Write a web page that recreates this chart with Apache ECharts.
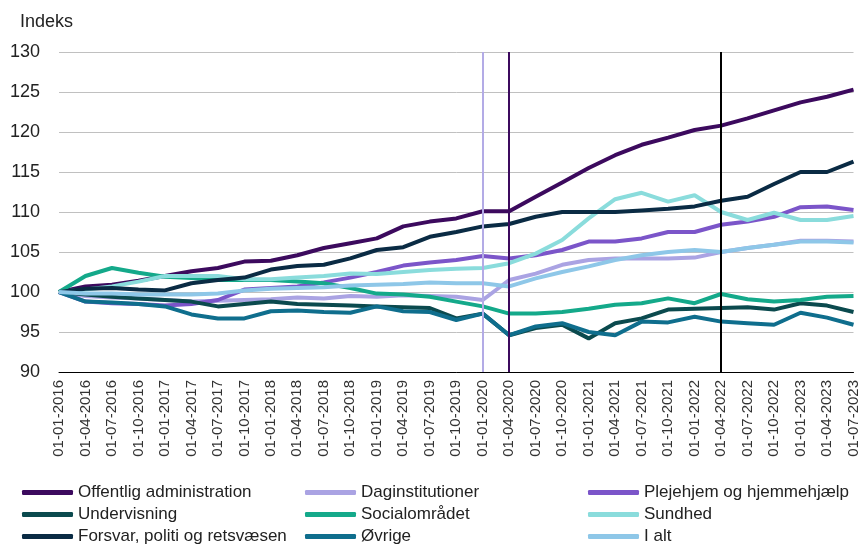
<!DOCTYPE html>
<html>
<head>
<meta charset="utf-8">
<script src="https://cdn.jsdelivr.net/npm/echarts@6/dist/echarts.min.js"></script>
<style>
  html, body { margin: 0; padding: 0; background: #fff; }
  #chart { width: 861px; height: 545px; }
</style>
</head>
<body>
<div id="chart"></div>
<script>
// kvartaler 2016-2023
const dates = [
  '01-01-2016', '01-04-2016', '01-07-2016', '01-10-2016',
  '01-01-2017', '01-04-2017', '01-07-2017', '01-10-2017',
  '01-01-2018', '01-04-2018', '01-07-2018', '01-10-2018',
  '01-01-2019', '01-04-2019', '01-07-2019', '01-10-2019',
  '01-01-2020', '01-04-2020', '01-07-2020', '01-10-2020',
  '01-01-2021', '01-04-2021', '01-07-2021', '01-10-2021',
  '01-01-2022', '01-04-2022', '01-07-2022', '01-10-2022',
  '01-01-2023', '01-04-2023', '01-07-2023'
]
const yTicks = [90, 95, 100, 105, 110, 115, 120, 125, 130]

const offentligAdm = [100, 100.7, 100.9, 101.4, 102, 102.6, 103, 103.8, 103.9, 104.6, 105.5, 106.1, 106.7, 108.2, 108.8, 109.2, 110.1, 110.1, 111.9, 113.7, 115.5, 117.1, 118.4, 119.3, 120.25, 120.8, 121.7, 122.7, 123.7, 124.4, 125.3]
const daginst = [100, 99.5, 99.3, 99.2, 99.0, 98.8, 98.9, 99.0, 99.1, 99.3, 99.2, 99.5, 99.4, 99.6, 99.5, 99.4, 99.0, 101.5, 102.3, 103.4, 104, 104.2, 104.2, 104.2, 104.3, 105, 105.5, 105.9, 106.4, 106.4, 106.3]
const plejehjem = [100, 98.8, 98.6, 98.5, 98.3, 98.5, 99.0, 100.3, 100.5, 100.7, 101.2, 101.8, 102.5, 103.3, 103.7, 104.0, 104.5, 104.2, 104.6, 105.25, 106.3, 106.3, 106.7, 107.5, 107.5, 108.4, 108.8, 109.4, 110.6, 110.7, 110.25]
const undervisning = [100, 99.7, 99.4, 99.2, 99.0, 98.8, 98.2, 98.5, 98.8, 98.5, 98.4, 98.3, 98.2, 98.1, 98.0, 96.7, 97.3, 94.6, 95.5, 95.9, 94.2, 96.1, 96.7, 97.8, 97.9, 98.0, 98.1, 97.8, 98.6, 98.3, 97.5]
const socialomraadet = [100, 102, 103, 102.4, 101.9, 101.75, 101.5, 101.5, 101.5, 101.3, 101.1, 100.5, 99.8, 99.7, 99.4, 98.8, 98.2, 97.3, 97.3, 97.5, 97.9, 98.4, 98.6, 99.2, 98.6, 99.75, 99.1, 98.8, 99, 99.4, 99.5]
const sundhed = [100, 100.3, 100.7, 101.3, 102, 102, 102, 101.6, 101.6, 101.8, 102, 102.3, 102.25, 102.5, 102.75, 102.9, 103, 103.6, 104.8, 106.5, 109.2, 111.6, 112.4, 111.3, 112.1, 110, 109, 109.9, 109, 109, 109.5]
const forsvar = [100, 100.4, 100.5, 100.3, 100.2, 101.1, 101.5, 101.8, 102.8, 103.25, 103.4, 104.2, 105.25, 105.6, 106.9, 107.5, 108.2, 108.5, 109.4, 110, 110, 110, 110.2, 110.4, 110.7, 111.4, 111.9, 113.5, 115, 115, 116.3]
const oevrige = [100, 98.8, 98.7, 98.5, 98.2, 97.2, 96.7, 96.7, 97.6, 97.7, 97.5, 97.4, 98.2, 97.6, 97.5, 96.5, 97.3, 94.6, 95.7, 96.1, 95, 94.6, 96.3, 96.2, 96.9, 96.3, 96.1, 95.9, 97.4, 96.8, 95.9]
const iAlt = [100, 99.8, 99.8, 99.7, 99.7, 99.7, 99.8, 100.2, 100.4, 100.5, 100.6, 100.8, 100.9, 101.0, 101.2, 101.1, 101.1, 100.7, 101.7, 102.5, 103.2, 104, 104.6, 105, 105.25, 105, 105.5, 105.9, 106.3, 106.3, 106.2]

// lodrette markeringer
const markers = [
  { date: '01-01-2020', color: '#b3abe6' },
  { date: '01-04-2020', color: '#3c0a5e' },
  { date: '01-04-2022', color: '#000000' }
]

const seriesDefs = [
  { name: 'Offentlig administration', data: offentligAdm, color: '#3c0a5e' },
  { name: 'Daginstitutioner', data: daginst, color: '#aaa3e3' },
  { name: 'Plejehjem og hjemmehjælp', data: plejehjem, color: '#7b55c9' },
  { name: 'Undervisning', data: undervisning, color: '#0b4a4e' },
  { name: 'Socialområdet', data: socialomraadet, color: '#14a98a' },
  { name: 'Sundhed', data: sundhed, color: '#8adcdc' },
  { name: 'Forsvar, politi og retsvæsen', data: forsvar, color: '#0a2b44' },
  { name: 'Øvrige', data: oevrige, color: '#0f6e8d' },
  { name: 'I alt', data: iAlt, color: '#8ec7e8' }
]

const chart = echarts.init(document.getElementById('chart'))

const series = seriesDefs.map(s => ({
  name: s.name,
  type: 'line',
  data: s.data,
  symbol: 'none',
  color: s.color,
  lineStyle: { width: 4, color: s.color },
  animation: false
}))

// markeringslinjer på første serie
series[0].markLine = {
  silent: true,
  symbol: 'none',
  label: { show: false },
  animation: false,
  data: markers.map(m => ({
    xAxis: m.date,
    lineStyle: { color: m.color, width: 2, type: 'solid' }
  }))
}

const legendText = { fontSize: 17, color: '#222', fontFamily: 'Liberation Sans, Arial', lineHeight: 17 }
const legendCommon = {
  orient: 'vertical',
  top: 484,
  height: 80,
  padding: 0,
  itemWidth: 51,
  itemHeight: 5,
  itemGap: 5,
  icon: 'roundRect',
  textStyle: legendText,
  selectedMode: false
}

chart.setOption({
  animation: false,
  title: {
    text: 'Indeks',
    left: 15,
    top: 8,
    textStyle: { fontSize: 18, fontWeight: 'normal', color: '#222', fontFamily: 'Liberation Sans, Arial' }
  },
  grid: {
    left: 59,
    right: 6,
    top: 52,
    bottom: 173
  },
  legend: [
    Object.assign({ left: 22, data: ['Offentlig administration', 'Undervisning', 'Forsvar, politi og retsvæsen'] }, legendCommon),
    Object.assign({ left: 305, data: ['Daginstitutioner', 'Socialområdet', 'Øvrige'] }, legendCommon),
    Object.assign({ left: 588, data: ['Plejehjem og hjemmehjælp', 'Sundhed', 'I alt'] }, legendCommon)
  ],
  xAxis: {
    type: 'category',
    data: dates,
    boundaryGap: false,
    axisLine: { lineStyle: { color: '#000', width: 1 } },
    axisTick: { show: false },
    axisLabel: {
      rotate: 90,
      interval: 0,
      fontSize: 15,
      color: '#333',
      margin: 8,
      fontFamily: 'Liberation Sans, Arial'
    }
  },
  yAxis: {
    type: 'value',
    min: yTicks[0],
    max: yTicks[yTicks.length - 1],
    interval: 5,
    axisLine: { show: false },
    axisTick: { show: false },
    splitLine: { lineStyle: { color: '#c0c0c0', width: 1 } },
    axisLabel: {
      fontSize: 18,
      color: '#222',
      margin: 19,
      fontFamily: 'Liberation Sans, Arial'
    }
  },
  series: series
})
</script>
</body>
</html>
